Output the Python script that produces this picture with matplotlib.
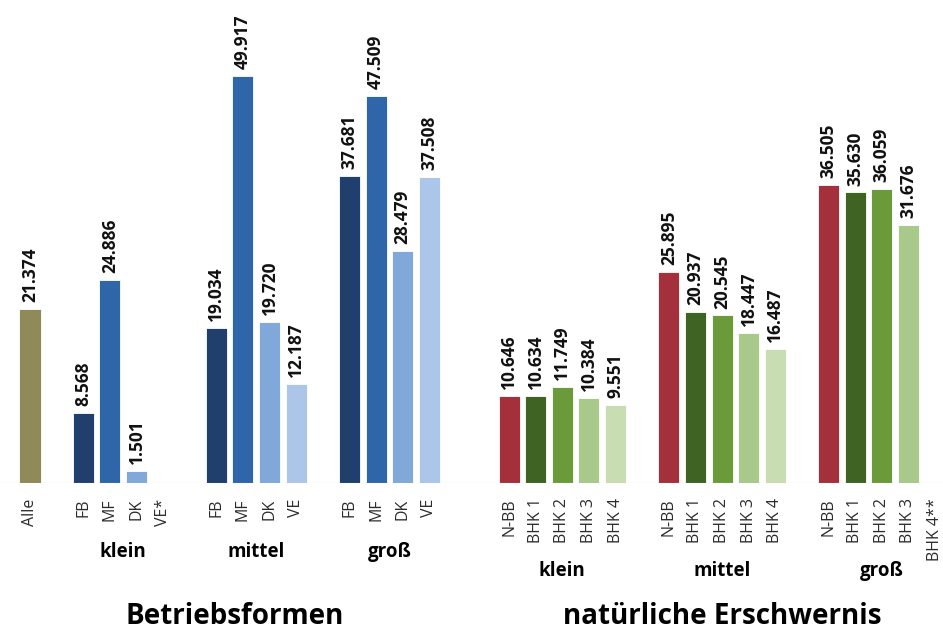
import numpy as np
import matplotlib.pyplot as plt

plt.rcParams['font.family'] = ['Open Sans', 'DejaVu Sans']

# Betriebsformen (klein / mittel / groß), Einkommen in Euro
alle = 21374
bf_labels = ["FB", "MF", "DK", "VE*", "FB", "MF", "DK", "VE", "FB", "MF", "DK", "VE"]
bf_values = [8568, 24886, 1501, None, 19034, 49917, 19720, 12187, 37681, 47509, 28479, 37508]

# natürliche Erschwernis (klein / mittel / groß)
ne_labels = ["N-BB", "BHK 1", "BHK 2", "BHK 3", "BHK 4",
             "N-BB", "BHK 1", "BHK 2", "BHK 3", "BHK 4",
             "N-BB", "BHK 1", "BHK 2", "BHK 3", "BHK 4**"]
ne_values = [10646, 10634, 11749, 10384, 9551,
             25895, 20937, 20545, 18447, 16487,
             36505, 35630, 36059, 31676, None]

groups = ["klein", "mittel", "groß"]

alle_color = "#8f8a57"
blues = ["#203f6d", "#2f65a9", "#80a9d9", "#abc6e9"]
reds_greens = ["#a3303b", "#3e6322", "#6b9a3b", "#a9c98a", "#c9ddb2"]

fig = plt.figure(figsize=(9.43, 6.32), dpi=100)
ax = fig.add_axes([0, 0.2358, 1, 0.7642])

slot = 905 / 34
ax.set_xlim(-30 / slot, 34 + 8 / slot)
ax.set_ylim(0, 49917 * 483 / 407)

bf_pos = [2, 3, 4, 5, 7, 8, 9, 10, 12, 13, 14, 15]
ne_pos = [18, 19, 20, 21, 22, 24, 25, 26, 27, 28, 30, 31, 32, 33, 34]


def fmt(v):
    return f"{v:,}".replace(",", ".")


def draw_bar(x, v, color):
    if v is None:
        return
    ax.bar(x, v, width=0.79, color=color, edgecolor="#ffffff", linewidth=0.6)
    ax.annotate(fmt(v), (x, v), xytext=(0, 5), textcoords="offset points",
                rotation=90, ha="center", va="bottom",
                fontsize=12.5, fontweight="bold", color="#111111")


draw_bar(0, alle, alle_color)
for i, (x, v) in enumerate(zip(bf_pos, bf_values)):
    draw_bar(x, v, blues[i % 4])
for i, (x, v) in enumerate(zip(ne_pos, ne_values)):
    draw_bar(x, v, reds_greens[i % 5])

ax.axhline(0, color="#c8c8c8", linewidth=0.8)

ax.set_xticks([0] + bf_pos + ne_pos)
ax.set_xticklabels(["Alle"] + bf_labels + ne_labels, rotation=90,
                   fontsize=11.5, color="#2b2b2b")
ax.tick_params(axis="x", length=0, pad=11)
ax.set_yticks([])
for s in ax.spines.values():
    s.set_visible(False)

# Gruppenbeschriftungen
for k, g in enumerate(groups):
    xl = np.mean(bf_pos[4 * k:4 * k + 4])
    ax.text(xl, -0.143, g, transform=ax.get_xaxis_transform(),
            ha="center", va="center", fontsize=13.5, fontweight="bold")
    xr = np.mean(ne_pos[5 * k:5 * k + 5])
    ax.text(xr, -0.183, g, transform=ax.get_xaxis_transform(),
            ha="center", va="center", fontsize=13.5, fontweight="bold")

fig.text(235 / 943, 1 - 617 / 632, "Betriebsformen", ha="center", va="center",
         fontsize=20, fontweight="bold")
fig.text(722 / 943, 1 - 617 / 632, "natürliche Erschwernis", ha="center", va="center",
         fontsize=20, fontweight="bold")

fig.savefig("out.png", dpi=100, facecolor="white")
